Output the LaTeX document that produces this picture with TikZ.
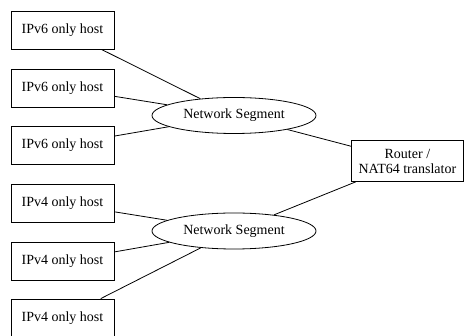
\documentclass[tikz,border=0pt]{standalone}
\usepackage{fontspec}
\setmainfont{Liberation Serif}
\usepackage{tikz}
\usetikzlibrary{shapes.geometric}

\begin{document}
\begin{tikzpicture}[x = 1pt, y = -1pt, line width = 0.8pt,
	every node/.style = {font = \fontsize{14}{15}\selectfont},
	host/.style = {draw, rectangle, minimum width = 103pt, minimum height = 38pt, inner sep = 0pt},
	segment/.style = {draw, ellipse, minimum width = 164pt, minimum height = 36pt, inner sep = 0pt},
	router/.style = {draw, rectangle, minimum width = 112pt, minimum height = 41pt, inner sep = 0pt, align = center}]
					\def\xHOST{62.5};
					\def\xSEG{234};
					\def\xROUTER{407.4};

					\useasboundingbox (0,0) rectangle (464,336);

					\begin{scope}
						\foreach \name/\y in {sixA/30, sixB/88, sixC/145}
							\node [host] (\name) at (\xHOST,\y) {IPv6 only host};
						\foreach \name/\y in {fourA/203.5, fourB/261, fourC/318}
							\node [host] (\name) at (\xHOST,\y) {IPv4 only host};
					\end{scope}

					\begin{scope}
						\node [segment] (segSix) at (\xSEG,115.5) {Network Segment};
						\node [segment] (segFour) at (\xSEG,231) {Network Segment};
						\node [router] (router) at (\xROUTER,161) {Router /\\NAT64 translator};
					\end{scope}

					\begin{scope}
						\foreach \name in {sixA, sixB, sixC}
							\draw (\name) -- (segSix);
						\foreach \name in {fourA, fourB, fourC}
							\draw (\name) -- (segFour);
						\draw (segSix) -- (router);
						\draw (segFour) -- (router);
					\end{scope}
				\end{tikzpicture}
\end{document}
